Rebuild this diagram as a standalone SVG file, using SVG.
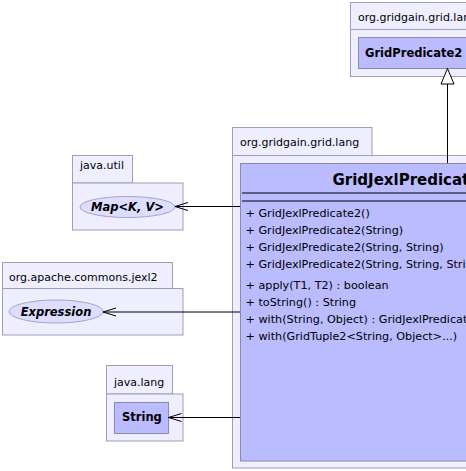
<svg xmlns="http://www.w3.org/2000/svg" width="466" height="471" viewBox="0 0 466 471">
<defs>
<style>
.pkg{fill:#EEEEFF;stroke:#9E9EB4;stroke-width:1}
.cls{fill:#BBBBFF;stroke:#8A8AAA;stroke-width:1}
.ifc{fill:#DDDDFF;stroke:#A4A4C4;stroke-width:1}
.sep{stroke:#000;stroke-width:1}
.plabel{font-family:"DejaVu Sans",sans-serif;font-size:11px;fill:#000}
.cname{font-family:"DejaVu Sans",sans-serif;font-size:11.5px;font-weight:bold;fill:#000}
.iname{font-family:"DejaVu Sans",sans-serif;font-size:11.5px;font-weight:bold;font-style:italic;fill:#000}
.big{font-family:"DejaVu Sans",sans-serif;font-size:15px;font-weight:bold;fill:#000}
.op{font-family:"DejaVu Sans",sans-serif;font-size:11.2px;fill:#000}
.edge{stroke:#000;stroke-width:1;fill:none}
</style>
<marker id="vee" markerUnits="userSpaceOnUse" markerWidth="16" markerHeight="10" refX="14" refY="5" orient="auto" viewBox="0 0 16 10">
<path d="M1,1 L14,5 L1,9" fill="none" stroke="#000" stroke-width="1"/>
</marker>
<marker id="tri" markerUnits="userSpaceOnUse" markerWidth="17" markerHeight="15" refX="16" refY="7.5" orient="auto" viewBox="0 0 17 15">
<path d="M16,7.5 L0.5,1 L0.5,14 Z" fill="#fff" stroke="#000" stroke-width="1"/>
</marker>
</defs>

<g id="pkg-top">
<rect class="pkg" x="350.5" y="2.5" width="130" height="27"/>
<rect class="pkg" x="350.5" y="29.5" width="130" height="47"/>
<text class="plabel" x="358" y="21">org.gridgain.grid.lang</text>
</g>
<g id="GridPredicate2">
<rect class="cls" x="358.5" y="37.5" width="120" height="31"/>
<text class="cname" x="365" y="57">GridPredicate2</text>
</g>

<g id="pkg-main">
<rect class="pkg" x="232.5" y="127.5" width="139.5" height="28"/>
<rect class="pkg" x="232.5" y="155.5" width="260" height="312.5"/>
<text class="plabel" x="240" y="146">org.gridgain.grid.lang</text>
</g>
<g id="GridJexlPredicate2">
<rect class="cls" x="240.5" y="163.5" width="250" height="297.5"/>
<text class="big" x="332.5" y="185">GridJexlPredicate2</text>
<line class="sep" x1="242" y1="193" x2="490" y2="193"/>
<line class="sep" x1="242" y1="201" x2="490" y2="201"/>
<text class="op" x="245.5" y="217">+ GridJexlPredicate2()</text>
<text class="op" x="245.5" y="234">+ GridJexlPredicate2(String)</text>
<text class="op" x="245.5" y="251">+ GridJexlPredicate2(String, String)</text>
<text class="op" x="245.5" y="268">+ GridJexlPredicate2(String, String, String)</text>
<text class="op" x="245.5" y="289">+ apply(T1, T2) : boolean</text>
<text class="op" x="245.5" y="306">+ toString() : String</text>
<text class="op" x="245.5" y="323">+ with(String, Object) : GridJexlPredicate2</text>
<text class="op" x="245.5" y="340">+ with(GridTuple2&lt;String, Object&gt;...)</text>
</g>

<g id="pkg-java-util">
<rect class="pkg" x="72.5" y="155.5" width="60" height="27.5"/>
<rect class="pkg" x="72.5" y="183" width="110.5" height="47"/>
<text class="plabel" x="80" y="169">java.util</text>
</g>
<g id="Map">
<ellipse class="ifc" cx="127.5" cy="207" rx="47.5" ry="10.5"/>
<text class="iname" x="127.5" y="211" text-anchor="middle">Map&lt;K, V&gt;</text>
</g>

<g id="pkg-jexl2">
<rect class="pkg" x="2.5" y="262.5" width="170" height="26"/>
<rect class="pkg" x="2.5" y="288.5" width="180.5" height="46.5"/>
<text class="plabel" x="9" y="281">org.apache.commons.jexl2</text>
</g>
<g id="Expression">
<ellipse class="ifc" cx="56" cy="311.5" rx="47" ry="11.5"/>
<text class="iname" x="56" y="316" text-anchor="middle">Expression</text>
</g>

<g id="pkg-java-lang">
<rect class="pkg" x="106.5" y="365.5" width="66" height="28.5"/>
<rect class="pkg" x="106.5" y="394" width="76.5" height="47"/>
<text class="plabel" x="114" y="386">java.lang</text>
</g>
<g id="String">
<rect class="cls" x="114.5" y="402.5" width="54" height="31"/>
<text class="cname" x="122" y="421">String</text>
</g>

<g id="connectors">
<line class="edge" x1="447.5" y1="163" x2="447.5" y2="68.5" marker-end="url(#tri)"/>
<line class="edge" x1="240" y1="206.5" x2="175" y2="206.5" marker-end="url(#vee)"/>
<line class="edge" x1="240" y1="312" x2="103" y2="312" marker-end="url(#vee)"/>
<line class="edge" x1="240" y1="417.5" x2="168.5" y2="417.5" marker-end="url(#vee)"/>
</g>
</svg>
